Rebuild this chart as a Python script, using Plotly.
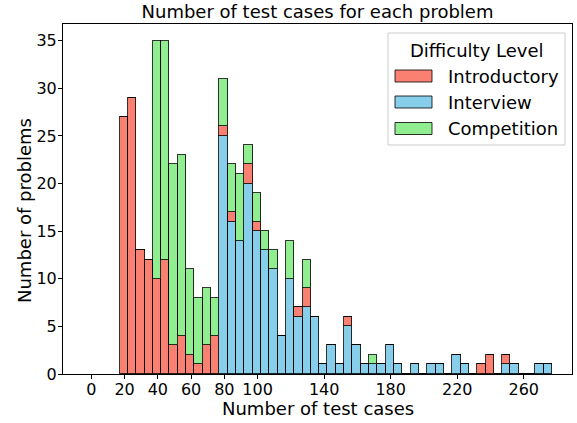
import plotly.graph_objects as go

# Histogram bins (width 5), left edges 17, 22, ..., 272
bin_left = list(range(17, 277, 5))
bin_width = 5

introductory = [27, 29, 13, 12, 10, 12, 3, 4, 2, 1, 3, 4,
                1, 1, 0, 2, 1, 0, 0, 0, 0, 1, 2, 0, 0, 0,
                0, 1, 0, 0, 0, 0, 0, 0, 0, 0, 0, 0, 0, 0,
                0, 0, 0, 1, 2, 0, 1, 0, 0, 0, 0, 0]
interview = [0, 0, 0, 0, 0, 0, 0, 0, 0, 0, 0, 0,
             25, 16, 14, 20, 15, 13, 11, 4, 10, 6, 7, 6, 1, 3,
             1, 5, 3, 1, 1, 1, 3, 1, 0, 1, 0, 1, 1, 0,
             2, 1, 0, 0, 0, 0, 1, 1, 0, 0, 1, 1]
competition = [0, 0, 0, 0, 25, 23, 19, 19, 9, 7, 6, 4,
               5, 5, 7, 2, 3, 2, 2, 0, 4, 0, 3, 0, 0, 0,
               0, 0, 0, 0, 1, 0, 0, 0, 0, 0, 0, 0, 0, 0,
               0, 0, 0, 0, 0, 0, 0, 0, 0, 0, 0, 0]

legend_labels = ["Introductory", "Interview", "Competition"]
colors = {"Introductory": "#FA8072", "Interview": "#87CEEB", "Competition": "#90EE90"}

x_ticks = [0, 20, 40, 60, 80, 100, 140, 180, 220, 260]
y_ticks = [0, 5, 10, 15, 20, 25, 30, 35]

centers = [b + bin_width / 2 for b in bin_left]

FONT = "DejaVu Sans"
edge = dict(color="rgba(0,0,0,0.8)", width=1)

W, H = 577, 423
# plot area in screen pixels (page body margin removed below)
SL, SR, ST, SB = 63, 572, 24, 374


def px(x):  # screen x -> paper
    return (x - SL) / (SR - SL)


def py(y):  # screen y -> paper
    return (SB - y) / (SB - ST)


fig = go.Figure()
# stacking order bottom -> top: Interview, Introductory, Competition
for name, vals in [("Interview", interview), ("Introductory", introductory),
                   ("Competition", competition)]:
    fig.add_trace(go.Bar(x=centers, y=vals, width=bin_width, name=name,
                         marker=dict(color=colors[name], line=edge), showlegend=False))

# legend (drawn in the upper-right corner)
shapes = [dict(type="rect", xref="paper", yref="paper",
               x0=px(388), x1=px(565), y0=py(145), y1=py(33),
               fillcolor="rgba(255,255,255,0.85)", line=dict(color="#cccccc", width=1),
               layer="above")]
annotations = [dict(text="Difficulty Level", xref="paper", yref="paper",
                    x=px(477), y=py(50), xanchor="center", yanchor="middle",
                    showarrow=False, font=dict(size=18))]
row_y = [76, 102, 128.5]
for lab, ry in zip(legend_labels, row_y):
    shapes.append(dict(type="rect", xref="paper", yref="paper",
                       x0=px(395), x1=px(432), y0=py(ry + 6), y1=py(ry - 6),
                       fillcolor=colors[lab], line=dict(color="rgba(0,0,0,0.8)", width=1),
                       layer="above"))
    annotations.append(dict(text=lab, xref="paper", yref="paper",
                            x=px(446), y=py(ry), xanchor="left", yanchor="middle",
                            showarrow=False, font=dict(size=18)))

# axis titles
annotations.append(dict(text="Number of test cases", xref="paper", yref="paper",
                        x=px(318), y=py(408), xanchor="center", yanchor="middle",
                        showarrow=False, font=dict(size=18)))
annotations.append(dict(text="Number of problems", xref="paper", yref="paper",
                        x=px(24), y=py(211), xanchor="center", yanchor="middle",
                        textangle=-90, showarrow=False, font=dict(size=18)))

fig.update_layout(
    width=W, height=H,
    margin=dict(l=SL, r=W - SR, t=ST, b=H - SB, autoexpand=False),
    barmode="stack", bargap=0,
    paper_bgcolor="white", plot_bgcolor="white",
    font=dict(family=FONT, size=16, color="black"),
    title=dict(text="Number of test cases for each problem", xref="paper", x=0.5,
               xanchor="center", yref="container", y=1 - 12 / H, yanchor="middle",
               font=dict(size=18)),
    shapes=shapes,
    annotations=annotations,
    xaxis=dict(range=[-17, 289], tickvals=x_ticks, ticks="outside", ticklen=4,
               tickcolor="black", showline=True, linecolor="black", linewidth=1,
               mirror=True, showgrid=False, zeroline=False, automargin=False,
               ticklabelstandoff=-3, tickfont=dict(size=16)),
    yaxis=dict(range=[0, 36.75], tickvals=y_ticks, ticks="outside", ticklen=4,
               tickcolor="black", showline=True, linecolor="black", linewidth=1,
               mirror=True, showgrid=False, zeroline=False, automargin=False,
               ticklabelstandoff=-2, tickfont=dict(size=16)),
)

fig.write_html("out.html", config={"displayModeBar": False},
               post_script="document.body.style.margin='0px';")
